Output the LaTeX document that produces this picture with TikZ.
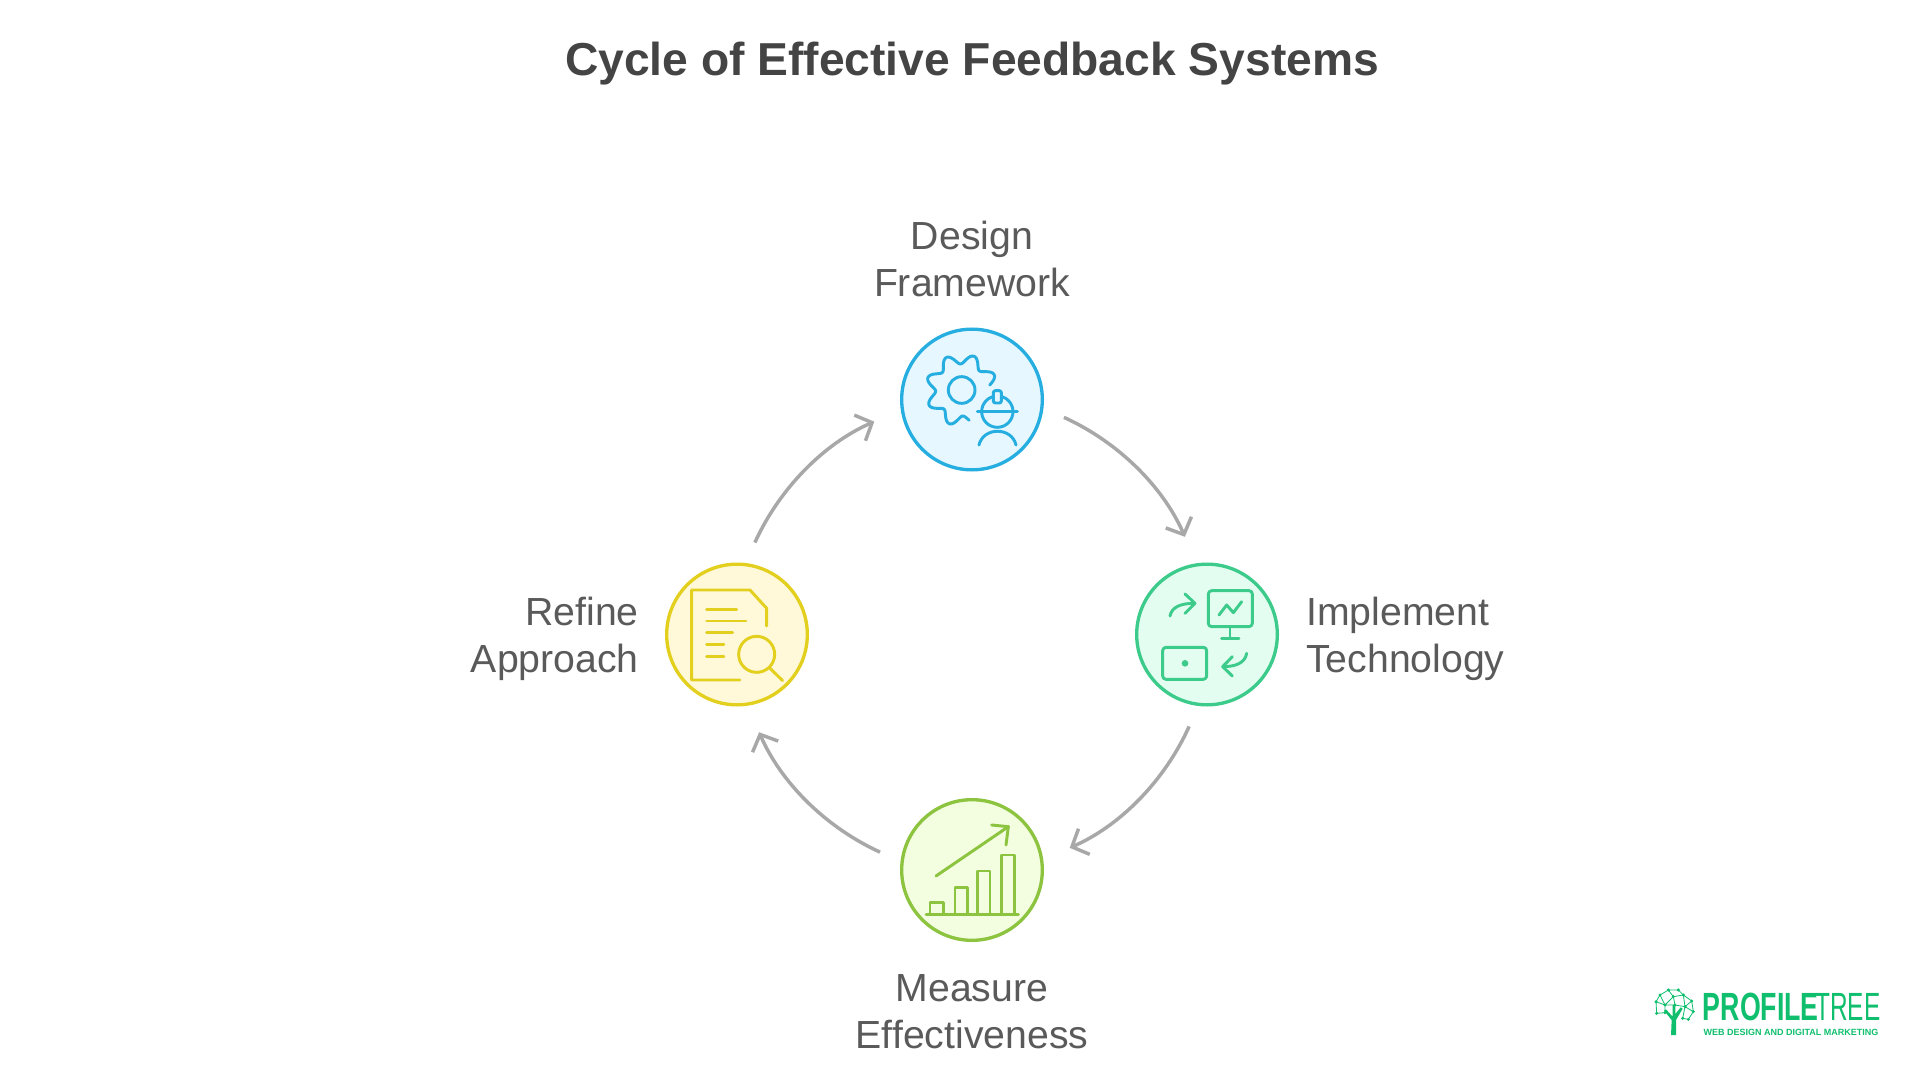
\documentclass[tikz,border=0pt]{standalone}
\usepackage{fontspec}
\setmainfont{Liberation Sans}
\usetikzlibrary{arrows.meta}
\definecolor{bluestroke}{HTML}{27AEE0}\definecolor{bluefill}{HTML}{E6F7FF}
\definecolor{greenstroke}{HTML}{3CCB8A}\definecolor{greenfill}{HTML}{E4FDF1}
\definecolor{limestroke}{HTML}{8CC33F}\definecolor{limefill}{HTML}{F3FDDF}
\definecolor{yellowstroke}{HTML}{E3CF1E}\definecolor{yellowfill}{HTML}{FFF9DA}
\definecolor{arrowgray}{HTML}{A8A8A8}
\definecolor{labelgray}{HTML}{5A5A5A}
\definecolor{titlegray}{HTML}{444444}
\definecolor{logogreen}{HTML}{10BF6E}
\tikzset{
  stage/.style={circle,line width=2.5pt,minimum size=105.5pt,inner sep=0pt,outer sep=17.5pt},
  lab/.style={text=labelgray,font=\fontsize{29.4}{35}\selectfont,inner sep=0pt},
  flow/.style={draw=arrowgray,line width=2.6pt,-{Straight Barb[length=10pt,width=21pt,line width=2.6pt]},bend left=21,looseness=.88,shorten >=5pt},
  icon/.style={line width=2.2pt,line cap=round,line join=round},
  zoomed/.style={x=.25pt,y=-.25pt}
}
\begin{document}
\begin{tikzpicture}[x=.75pt,y=-.75pt]
\useasboundingbox (0,0) rectangle (1920,1080);
\fill[white] (0,0) rectangle (1920,1080);
\node[text=titlegray,font=\fontsize{34.65}{40}\selectfont\bfseries,inner sep=0pt] (title) at (972,64) {Cycle of Effective Feedback Systems};
\node[stage,draw=bluestroke,fill=bluefill] (top) at (972,399.5) {};
\node[stage,draw=greenstroke,fill=greenfill] (right) at (1207,634.5) {};
\node[stage,draw=limestroke,fill=limefill] (bottom) at (972,870) {};
\node[stage,draw=yellowstroke,fill=yellowfill] (left) at (737,634.5) {};
\node[lab,align=center] (ltop) at (972,259) {Design\\Framework};
\node[lab,align=left,anchor=west] (lright) at (1306,639) {Implement\\Technology};
\node[lab,align=center] (lbottom) at (972,1012) {Measure\\Effectiveness};
\node[lab,align=right,anchor=east] (lleft) at (639,639) {Refine\\Approach};
\draw[flow] (top.-11) to (right.102);
\draw[flow] (right.-101) to (bottom.12);
\draw[flow] (bottom.169) to (left.-78);
\draw[flow] (left.79) to (top.192);
% blue icon
\begin{scope}[shift={(880,310)},zoomed,icon,draw=bluestroke]
\draw plot[smooth,domain=10:284,samples=90] ({245+(93+15*cos(8*(\x-25)))*cos(\x)},{240-(93+15*cos(8*(\x-25)))*sin(\x)});
\draw (245,240) circle[radius=40];
\draw (352,305) circle[radius=47];
\draw (292,305) -- (412,305);
\draw[fill=bluefill,rounded corners=1.5pt] (340,279) rectangle (364,242);
\draw (297,405) .. controls (310,350) and (395,350) .. (408,405);
\end{scope}
% green icon
\begin{scope}[shift={(1120,550)},zoomed,icon,draw=greenstroke]
\draw[rounded corners=2.5pt] (265,122) rectangle (397,230);
\draw (297,195) -- (320,165) -- (340,188) -- (365,155);
\draw (330,230) -- (330,265) (305,265) -- (357,265);
\draw[rounded corners=2.5pt] (128,292) rectangle (260,388);
\fill[greenstroke] (195,340) circle[radius=10];
\draw (150,198) .. controls (155,170) and (185,160) .. (222,160);
\draw (195,132) -- (225,160) -- (195,190);
\draw (380,310) .. controls (375,340) and (345,350) .. (308,350);
\draw (337,320) -- (308,350) -- (337,378);
\end{scope}
% lime icon
\begin{scope}[shift={(880,790)},zoomed,icon,draw=limestroke]
\draw (168,258) -- (385,110);
\draw (335,105) -- (385,110) -- (378,165);
\draw (138,373) -- (415,373);
\draw (150,373) -- (150,338) -- (190,338) -- (190,373);
\draw (225,373) -- (225,292) -- (262,292) -- (262,373);
\draw (293,373) -- (293,243) -- (330,243) -- (330,373);
\draw (365,373) -- (365,195) -- (403,195) -- (403,373);
\end{scope}
% yellow icon
\begin{scope}[shift={(650,550)},zoomed,icon,draw=yellowstroke]
\draw (270,390) -- (125,390) -- (125,120) -- (300,120) -- (350,175) -- (350,228);
\draw (170,178) -- (260,178) (170,213) -- (288,213) (170,248) -- (248,248) (170,284) -- (222,284) (170,319) -- (222,319);
\draw (320,313) circle[radius=54];
\draw (360,355) -- (398,392);
\end{scope}
% logo
\begin{scope}[shift={(1640,970)},zoomed,draw=logogreen,fill=logogreen]
\fill (93,195) -- (95,150) -- (72,122) -- (78,118) -- (98,140) -- (98,105) -- (106,105) -- (106,132) -- (122,112) -- (128,116) -- (108,150) -- (108,195) -- cycle;
\draw[line width=.6pt]
 (48,95) -- (60,75) -- (85,60) -- (115,60) -- (130,75) -- (155,93) -- (160,125) -- (145,148)
 (48,95) -- (50,130) -- (75,128) -- (75,105) -- (48,95)
 (60,75) -- (75,105) -- (100,80) -- (85,60) (100,80) -- (130,75) -- (135,110) -- (155,93)
 (135,110) -- (160,125) (135,110) -- (128,145) -- (145,148) (105,105) -- (100,80) (105,105) -- (75,105) (105,105) -- (135,110);
\foreach \p in {(48,95),(50,130),(60,75),(85,60),(115,60),(130,75),(155,93),(160,125),(145,148),(75,105),(100,80),(135,110),(128,145),(75,128),(105,105)}
  \fill \p circle[radius=5];
\node[text=logogreen,inner sep=0pt,anchor=west,font=\fontsize{29.5}{30}\selectfont\bfseries,xscale=.68] (logoa) at (188,112) {PROFILE};
\node[text=logogreen,inner sep=0pt,anchor=east,font=\fontsize{29.5}{30}\selectfont,xscale=.62] (logob) at (722,112) {TREE};
\node[text=logogreen,inner sep=0pt,anchor=west,font=\fontsize{6.75}{7}\selectfont\bfseries] (logoc) at (190,186) {WEB DESIGN AND DIGITAL MARKETING};
\end{scope}
\end{tikzpicture}
\end{document}
